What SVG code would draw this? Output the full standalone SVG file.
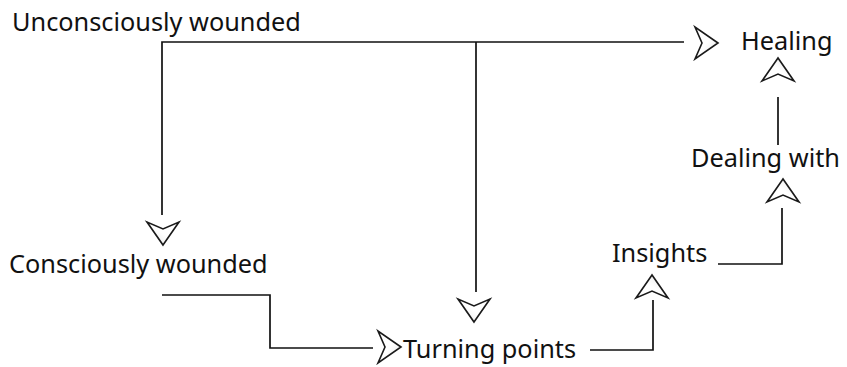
<svg xmlns="http://www.w3.org/2000/svg" xmlns:xlink="http://www.w3.org/1999/xlink" width="847" height="367" viewBox="0 0 847 367">
<style>
text{font-family:"Noto Sans","Open Sans",sans-serif;font-size:25.3px;fill:#111}
.c{fill:none;stroke:#111;stroke-width:1.7}
.ah{fill:url(#g);stroke:#1a1a1a;stroke-width:1.6;stroke-linejoin:miter}
</style>
<defs>
<linearGradient id="g" x1="0" y1="0" x2="1" y2="1"><stop offset="0" stop-color="#ffffff"/><stop offset="0.5" stop-color="#ffffff"/><stop offset="1" stop-color="#e2e2e2"/></linearGradient>
<path id="arr" class="ah" d="M0,0 L-23,-16 L-16,0 L-23,16 Z"/>
</defs>
<rect width="847" height="367" fill="#fff"/>
<g id="connectors">
<polyline class="c" points="162,215 162,42 684,42"/>
<polyline class="c" points="476,42 476,292"/>
<polyline class="c" points="162,295 270,295 270,348 373,348"/>
<polyline class="c" points="590,350 653,350 653,300"/>
<polyline class="c" points="718,264 782,264 782,208"/>
<polyline class="c" points="778,145 778,97"/>
<use xlink:href="#arr" transform="translate(163,245) rotate(90)"/>
<use xlink:href="#arr" transform="translate(474,322) rotate(90)"/>
<use xlink:href="#arr" transform="translate(401,347)"/>
<use xlink:href="#arr" transform="translate(718,43)"/>
<use xlink:href="#arr" transform="translate(652,275) rotate(-90)"/>
<use xlink:href="#arr" transform="translate(783,179) rotate(-90)"/>
<use xlink:href="#arr" transform="translate(778,58) rotate(-90)"/>
</g>
<g id="n-unconscious"><text x="12" y="31">Unconsciously wounded</text></g>
<g id="n-conscious"><text x="9" y="273">Consciously wounded</text></g>
<g id="n-turning"><text x="403" y="358">Turning points</text></g>
<g id="n-insights"><text x="612" y="262">Insights</text></g>
<g id="n-dealing"><text x="691" y="167">Dealing with</text></g>
<g id="n-healing"><text x="741" y="50">Healing</text></g>
</svg>
